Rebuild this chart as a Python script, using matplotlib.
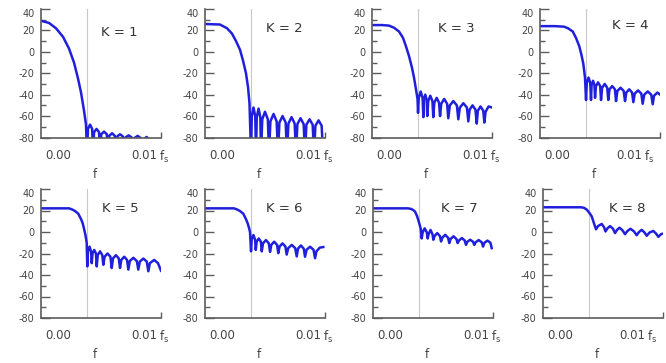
import matplotlib
matplotlib.use("Agg")
import matplotlib.pyplot as plt
from matplotlib.ticker import MultipleLocator

plt.rcParams["font.family"] = ["DejaVu Sans"]
plt.rcParams["axes.unicode_minus"] = False

# frequency in units of 1e-3 f_s, magnitude in dB
k1_f = [-2.0, -1.07, -0.25, 0.57, 1.27, 1.85, 2.32, 2.67, 3.02, 3.25, 3.37,
        3.48, 3.72, 3.97, 4.07, 4.19, 4.48, 4.77, 4.89, 5.03, 5.36, 5.68, 5.82,
        5.96, 6.29, 6.61, 6.75, 6.89, 7.22, 7.55, 7.69, 7.85, 8.22, 8.58, 8.74,
        8.90, 9.27, 9.63, 9.79, 9.95, 10.31, 10.68, 10.84, 12.0]
k1_db = [29, 27, 22, 14, 3, -10, -25, -38, -55, -68, -95,
         -72, -68, -72, -95, -75, -72, -75, -95, -77, -74.5, -77, -95,
         -78.5, -76, -78.5, -95, -79, -77, -79, -95, -80, -78, -80, -95,
         -80.5, -78.5, -80.5, -95, -82, -79.5, -82, -95, -95]

k2_f = [-2.0, -0.25, 0.57, 1.15, 1.62, 2.08, 2.43, 2.78, 3.02, 3.19, 3.37,
        3.46, 3.66, 3.86, 3.95, 4.04, 4.25, 4.45, 4.54, 4.68, 5.0, 5.33, 5.47,
        5.63, 6.0, 6.36, 6.52, 6.68, 7.05, 7.41, 7.57, 7.73, 8.1, 8.46, 8.62,
        8.78, 9.15, 9.51, 9.67, 9.83, 10.2, 10.56, 10.72, 10.88, 11.25, 11.61, 11.77]
k2_db = [26, 25.5, 22, 17, 10, 2, -8, -20, -33, -48, -95,
         -60, -52, -60, -95, -61, -53, -61, -95, -63, -56, -63, -95,
         -65, -58, -65, -95, -66, -60, -66, -95, -67, -61, -67, -95,
         -67.5, -62, -67.5, -95, -68, -63, -68, -95, -69, -64, -69, -95]

k3_f = [-2.0, -0.83, -0.02, 0.57, 1.15, 1.62, 1.97, 2.32, 2.67, 2.90, 3.13, 3.31, 3.37,
        3.46, 3.68, 3.90, 3.99, 4.06, 4.22, 4.38, 4.45, 4.56, 4.80, 5.05, 5.15,
        5.27, 5.55, 5.82, 5.94, 6.08, 6.42, 6.76, 6.90, 7.08, 7.49, 7.90, 8.07,
        8.25, 8.66, 9.07, 9.24, 9.39, 9.73, 10.07, 10.22, 10.35, 10.66, 10.98, 11.11,
        11.25, 11.6, 12.0]
k3_db = [25, 25, 24.5, 22.5, 19, 13, 5, -4, -15, -24, -35, -44, -57,
         -43, -37, -43, -61, -45, -40, -45, -60, -46, -41, -46, -61,
         -47.5, -43, -47.5, -60, -48.5, -44, -48.5, -62, -50, -46, -50, -63,
         -52, -48, -52, -65, -54, -50, -54, -67, -55, -51, -55, -66,
         -56, -51, -52]

k4_f = [-2.0, -0.25, 0.8, 1.27, 1.82, 2.2, 2.59, 2.84, 3.05, 3.25, 3.37,
        3.46, 3.66, 3.86, 3.95, 4.02, 4.19, 4.35, 4.42, 4.53, 4.77, 5.02, 5.12,
        5.25, 5.55, 5.84, 5.97, 6.11, 6.42, 6.74, 6.87, 7.03, 7.40, 7.76, 7.92,
        8.07, 8.41, 8.74, 8.89, 9.05, 9.44, 9.82, 9.98, 10.16, 10.57, 10.98, 11.15,
        11.3, 11.7, 12.0]
k4_db = [24, 24, 23.5, 22, 19, 13, 5, -3, -11, -24, -45,
         -29, -24, -29, -45, -31, -27, -31, -43, -32, -28.5, -32, -45,
         -33.5, -30, -33.5, -45, -35, -32, -35, -46, -36.5, -33.5, -36.5, -46,
         -38, -35, -38, -47, -39, -36, -39, -48.5, -40, -37, -40, -49,
         -41, -38, -40]

k5_f = [-2.0, -0.25, 1.27, 1.62, 1.97, 2.35, 2.67, 2.87, 3.02, 3.19, 3.33, 3.40,
        3.48, 3.66, 3.84, 3.92, 4.01, 4.21, 4.41, 4.5, 4.62, 4.89, 5.15, 5.27,
        5.42, 5.76, 6.10, 6.25, 6.40, 6.74, 7.07, 7.22, 7.37, 7.71, 8.04, 8.19,
        8.36, 8.77, 9.18, 9.35, 9.53, 9.94, 10.34, 10.52, 10.7, 11.2, 11.65, 12.0]
k5_db = [22, 22, 22, 21, 19.5, 17, 12, 8, 3, -3, -10, -32,
         -18, -13.6, -18, -29, -20, -16.7, -20, -32, -21.5, -18, -21.5, -30.5,
         -23, -20, -23, -33.5, -24.5, -21.6, -24.5, -33.5, -26, -23, -26, -35,
         -27, -24, -27, -35, -27.5, -24.7, -27.5, -36.5, -29, -26, -29, -36]

k6_f = [-2.0, -0.25, 1.38, 1.73, 2.08, 2.47, 2.78, 2.98, 3.13, 3.25, 3.37,
        3.45, 3.65, 3.84, 3.92, 4.03, 4.27, 4.52, 4.62, 4.77, 5.11, 5.44, 5.59,
        5.73, 6.07, 6.41, 6.55, 6.7, 7.04, 7.38, 7.53, 7.71, 8.12, 8.52, 8.7,
        8.85, 9.19, 9.52, 9.67, 9.85, 10.26, 10.66, 10.84, 11.0, 11.4, 11.8]
k6_db = [22, 22, 22, 21, 19.5, 17, 12, 8, 4, 0, -18,
         -7, -2.8, -7, -16.7, -9, -6, -9, -18, -10.5, -7.5, -10.5, -18.5,
         -12, -9, -12, -19.7, -13.5, -10.6, -13.5, -21, -15, -12, -15, -22.7,
         -15.5, -12.5, -15.5, -23, -16.5, -13.7, -16.5, -24.4, -18, -14.5, -14]

k7_f = [-2.0, 0.33, 2.08, 2.43, 2.67, 2.9, 3.13, 3.29, 3.43, 3.57, 3.68,
        3.79, 4.03, 4.28, 4.38, 4.48, 4.71, 4.94, 5.04, 5.18, 5.49, 5.81, 5.94,
        6.08, 6.42, 6.76, 6.9, 7.05, 7.39, 7.73, 7.88, 8.03, 8.37, 8.70, 8.85,
        9.0, 9.34, 9.67, 9.82, 9.97, 10.33, 10.69, 10.84, 11.0, 11.35, 11.7, 11.85]
k7_db = [22, 22, 22, 21.5, 20.5, 19, 15, 11, 7, 3, -6,
         -0.4, 3.4, -0.4, -6, -2.1, 1.9, -2.1, -7.2, -3.8, -1, -3.8, -8.8,
         -5.4, -2.6, -5.4, -10.3, -6.5, -4, -6.5, -10.3, -7.9, -5.6, -7.9, -12,
         -9.1, -7.2, -9.1, -12, -9.6, -7.5, -9.6, -13.6, -10, -8, -10, -15]

k8_f = [-2.0, 0.33, 2.43, 2.78, 3.08, 3.29, 3.48, 3.68, 3.95, 4.19,
        4.42, 4.85, 5.12, 5.29, 5.53, 5.82, 6.17, 6.4, 6.64, 6.93, 7.28, 7.57,
        7.86, 8.21, 8.62, 8.93, 9.2, 9.52, 9.85, 10.1, 10.43, 10.87, 11.19, 11.46,
        11.77, 12.0]
k8_db = [23, 23, 23, 22.5, 21, 19, 17, 14.6, 8, 2.5,
         5.5, 7.5, 4.5, 0.5, 3.5, 5.5, 3, -1, 2, 4, 1.5, -2,
         1, 3, 0.5, -3, 0, 2, -0.5, -3.5, -0.5, 1, -1.5, -4.5,
         -2, -1.5]

k_values = [1, 2, 3, 4, 5, 6, 7, 8]
curves = [(k1_f, k1_db), (k2_f, k2_db), (k3_f, k3_db), (k4_f, k4_db),
          (k5_f, k5_db), (k6_f, k6_db), (k7_f, k7_db), (k8_f, k8_db)]
cutoff = 3.4
xtick_pos = [0, 10]
xtick_labels = ["0.00", "0.01"]

# layout (pixels of the 666x363 figure)
W, H = 666, 363
lefts_px = [[41, 205, 372, 540], [41, 205, 373, 543]]
rows_px = [(9, 137.5), (189, 318)]
klabel_pos = [(0.65, 0.82), (0.66, 0.85), (0.70, 0.85), (0.75, 0.87),
              (0.66, 0.85), (0.66, 0.85), (0.72, 0.85), (0.70, 0.85)]
# the last column has its right-hand label pushed left by the page edge
label_shift_pt = [0, 0, 0, -10]

BLUE = "#2020dc"
GREY = "#5c5c5c"
TEXT = "#444444"

fig = plt.figure(figsize=(6.66, 3.63), dpi=100)

for i, (k, (f, db)) in enumerate(zip(k_values, curves)):
    row, col = divmod(i, 4)
    top, bot = rows_px[row]
    ax = fig.add_axes([lefts_px[row][col] / W, 1 - bot / H, 120 / W, (bot - top) / H])

    ax.axvline(cutoff, color="#c8c8c8", lw=0.8)
    ax.plot(f, db, color=BLUE, lw=1.8, solid_joinstyle="round")

    ax.set_xlim(-2, 12)
    ax.set_ylim(-80, 40)
    for s in ("top", "right"):
        ax.spines[s].set_visible(False)
    for s in ("left", "bottom"):
        ax.spines[s].set_color(GREY)
        ax.spines[s].set_linewidth(1.2)

    ax.set_yticks(range(-80, 41, 20))
    ax.yaxis.set_minor_locator(MultipleLocator(10))
    ax.tick_params(axis="y", which="major", direction="in", length=6.5, width=1,
                   color=GREY, labelsize=7, labelcolor=TEXT, pad=4.5)
    ax.tick_params(axis="y", which="minor", direction="in", length=3.5, width=1,
                   color=GREY)
    ax.get_yticklabels()[-1].set_va("top")

    # x labels drawn as annotations so the last column can be nudged left
    ax.set_xticks([])
    ax.set_xticks([12], minor=True)
    ax.tick_params(axis="x", which="minor", direction="in", length=4, width=1,
                   color=GREY, labelbottom=False)
    dx = label_shift_pt[col]
    ax.annotate(xtick_labels[0], xy=(xtick_pos[0], 0),
                xycoords=("data", "axes fraction"), xytext=(0, -8),
                textcoords="offset points", ha="center", va="top",
                fontsize=8.5, color=TEXT)
    ax.annotate(xtick_labels[1], xy=(xtick_pos[1], 0),
                xycoords=("data", "axes fraction"), xytext=(dx, -8),
                textcoords="offset points", ha="center", va="top",
                fontsize=8.5, color=TEXT)
    ax.annotate(r"f$_\mathregular{s}$", xy=(xtick_pos[1], 0),
                xycoords=("data", "axes fraction"), xytext=(dx + 11, -8),
                textcoords="offset points", ha="left", va="top",
                fontsize=8.5, color=TEXT)

    ax.set_xlabel("f", fontsize=8.5, color=TEXT)
    ax.xaxis.set_label_coords(0.45, -0.235)

    kx, ky = klabel_pos[i]
    ax.text(kx, ky, f"K = {k}", transform=ax.transAxes, ha="center",
            va="center", fontsize=9.5, color="#333333")

fig.savefig("out.png", dpi=100)
